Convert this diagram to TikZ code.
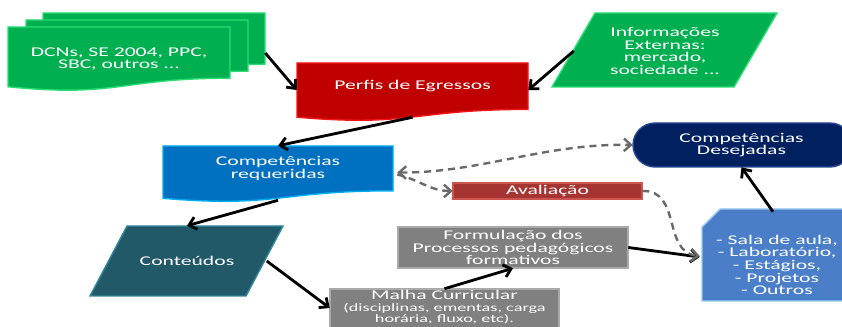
\documentclass[tikz,border=0pt]{standalone}
\usepackage{fontspec}
\setmainfont{Carlito}[FakeStretch=1.62]
\usepackage{tikz}
\usetikzlibrary{arrows.meta, calc}

\definecolor{docgreen}{RGB}{0,176,80}
\definecolor{docgreenedge}{RGB}{40,222,112}
\definecolor{perfred}{RGB}{192,0,0}
\definecolor{perfrededge}{RGB}{245,20,20}
\definecolor{reqblue}{RGB}{0,112,192}
\definecolor{reqblueedge}{RGB}{0,172,240}
\definecolor{desnavy}{RGB}{0,32,96}
\definecolor{desnavyedge}{RGB}{40,72,150}
\definecolor{avalred}{RGB}{165,52,50}
\definecolor{avalrededge}{RGB}{205,85,80}
\definecolor{contteal}{RGB}{33,89,104}
\definecolor{conttealedge}{RGB}{52,136,158}
\definecolor{procgray}{RGB}{128,128,128}
\definecolor{procgrayedge}{RGB}{170,170,170}
\definecolor{salablue}{RGB}{74,126,200}
\definecolor{salablueedge}{RGB}{150,200,240}
\definecolor{dashgray}{RGB}{105,105,105}

\newcommand{\px}{0.025cm}
% flowchart document: wavy bottom edge
\newcommand{\drawdoc}[6]{
	\draw[fill=#5, draw=#6, line width=1pt]
		(#1, #3) -- (#2, #3)
		-- (#2, {#3 + 0.8*(#4 - #3)})
		.. controls ({(#1 + #2)/2}, {#3 + 0.8*(#4 - #3)}) and ({(#1 + #2)/2}, {#3 + 1.107*(#4 - #3)})
		.. (#1, {#3 + 0.934*(#4 - #3)}) -- cycle;
}
% parallelogram leaning right
\newcommand{\drawslant}[7]{
	\draw[fill=#6, draw=#7, line width=1pt]
		(#1, #3) -- (#2, #3) -- ({#2 - #5}, #4) -- ({#1 - #5}, #4) -- cycle;
}

\tikzset{
	lbl/.style={text=white, align=center, inner sep=0pt, font=\fontsize{9.5}{9}\selectfont},
	flow/.style={->, line width=2pt},
	dashflow/.style={line width=1.7pt, color=dashgray, dash pattern=on 5pt off 3.5pt},
	>={Straight Barb[length=5pt, width=9pt]}
}

\begin{document}
\begin{tikzpicture}[x=0.025cm, y=-0.025cm]
		\useasboundingbox (0, 0) rectangle (842, 327);
		\clip (0, 0) rectangle (842, 327);

		%% top row
		% stacked documents
		\drawdoc{43}{265}{13}{77}{docgreen}{docgreenedge}
		\drawdoc{26}{248}{20}{84}{docgreen}{docgreenedge}
		\drawdoc{8}{230}{27}{91}{docgreen}{docgreenedge}
		\drawdoc{297}{528}{63}{121}{perfred}{perfrededge}
		\drawslant{595}{777}{13}{87}{43}{docgreen}{docgreenedge}

		%% middle row
		\drawdoc{163}{393}{146}{202}{reqblue}{reqblueedge}
		\draw[fill=avalred, draw=avalrededge, line width=1pt] (453, 183) rectangle (642, 199);
		\draw[fill=desnavy, draw=desnavyedge, line width=1pt, rounded corners=0.55cm]
			(633, 123) rectangle (852, 167);

		%% bottom row
		\drawslant{127}{283}{226}{296}{37}{contteal}{conttealedge}
		\draw[fill=procgray, draw=procgrayedge, line width=1pt] (398, 227) rectangle (628, 268);
		\draw[fill=procgray, draw=procgrayedge, line width=1pt] (330, 289) rectangle (559, 340);
		\draw[fill=salablue, draw=salablueedge, line width=1pt]
			(720, 209) -- (856, 209) -- (856, 301) -- (702, 301) -- (702, 227) -- cycle;

		% labels
		\node[lbl, minimum width=222*\px, minimum height=64*\px] (dcn) at (119, 59)
			{DCNs, SE 2004, PPC,\\SBC, outros ...};
		\node[lbl, minimum width=231*\px, minimum height=46*\px] (perfis) at (412.5, 86)
			{Perfis de Egressos};
		\node[lbl, minimum width=182*\px, minimum height=74*\px] (info) at (665, 51)
			{Informações\\Externas:\\mercado,\\sociedade ...};
		\node[lbl, minimum width=230*\px, minimum height=45*\px] (compreq) at (278, 168.5)
			{Competências\\requeridas};
		\node[lbl, minimum width=189*\px, minimum height=16*\px] (aval) at (547.5, 191)
			{Avaliação};
		\node[lbl, minimum width=217*\px, minimum height=44*\px] (compdes) at (741.5, 145)
			{Competências\\Desejadas};
		\node[lbl, minimum width=159*\px, minimum height=70*\px] (cont) at (187, 261)
			{Conteúdos};
		\node[lbl, minimum width=230*\px, minimum height=41*\px] (form) at (513, 247.5)
			{Formulação dos\\Processos pedagógicos\\formativos};
		\node[lbl, minimum width=229*\px, minimum height=36*\px, font=\fontsize{8}{7.6}\selectfont]
			(malha) at (444.5, 307)
			{{\fontsize{9.5}{9}\selectfont Malha Curricular}\\[1.2pt](disciplinas, ementas, carga\\horária, fluxo, etc).};
		\node[lbl, minimum width=150*\px, minimum height=106*\px] (sala) at (777, 265)
			{- Sala de aula,\\- Laboratório,\\- Estágios,\\- Projetos\\- Outros};

		% arrows
		\draw[flow] ($(dcn.east) + (35, -6)$) -- ($(perfis.west) + (0, 4)$);
		\draw[flow] (info.west) -- ($(perfis.east) + (0, 4)$);
		\draw[flow] ($(perfis.south) + (0, 8)$) -- (compreq.north);
		\draw[flow] ($(compreq.south) + (0, 9)$) -- (cont.north);
		\draw[flow] (cont.east) -- ($(malha.west) + (0, 1)$);
		\draw[flow] (malha.north) -- (form.south);
		\draw[flow] (form.east) -- ($(sala.west) + (-2, -8)$);
		\draw[flow] ($(sala.north) + (-4, 0)$) -- (compdes.south);

		% evaluation loop
		\draw[dashflow, <->] ($(compreq.east) + (4, 4)$)
			.. controls (480, 173) and (545, 143) .. (compdes.west);
		\draw[dashflow, ->] ($(compreq.east) + (4, 6)$)
			.. controls (420, 180) and (430, 191) .. (aval.west);
		\draw[dashflow, ->] (aval.east)
			.. controls (682, 190) and (662, 252) .. ($(sala.west) + (-2, -9)$);
\end{tikzpicture}
\end{document}
